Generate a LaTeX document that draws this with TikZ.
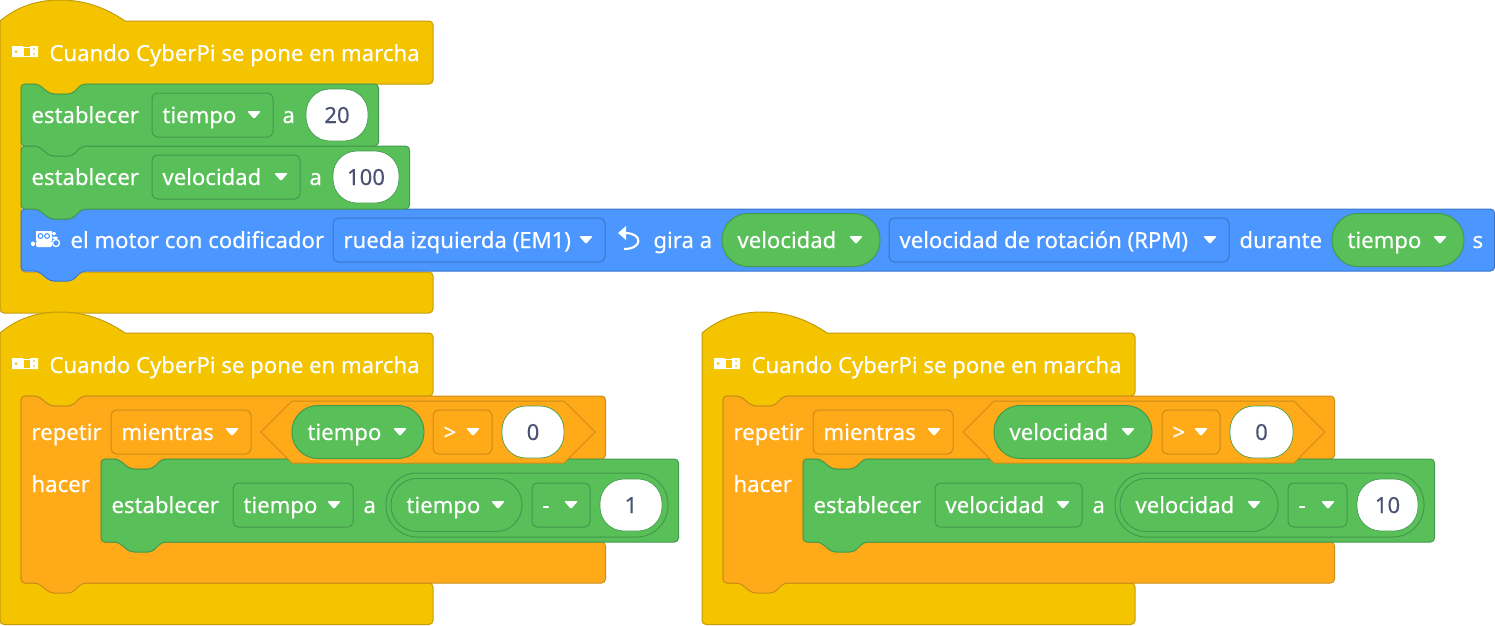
\documentclass[tikz,border=0pt]{standalone}
\usepackage{fontspec}
\setmainfont{Noto Sans}[FakeBold=0.3]
\definecolor{yfill}{HTML}{F5C400}
\definecolor{yedge}{HTML}{C49D0A}
\definecolor{gfill}{HTML}{59C059}
\definecolor{gedge}{HTML}{429A4C}
\definecolor{bfill}{HTML}{4C97FF}
\definecolor{bedge}{HTML}{3A76CC}
\definecolor{ofill}{HTML}{FFAB19}
\definecolor{oedge}{HTML}{CC8B18}
\definecolor{slate}{HTML}{4C5272}
\tikzset{
	txt/.style={anchor=base west,inner sep=0pt,xshift=-.6pt,text=white,font=\fontsize{16.6}{18}\selectfont},
	num/.style={anchor=base,inner sep=0pt,text=slate,font=\fontsize{16.6}{18}\selectfont},
	yblk/.style={fill=yfill,draw=yedge,line width=.75pt},
	gblk/.style={fill=gfill,draw=gedge,line width=.75pt},
	bblk/.style={fill=bfill,draw=bedge,line width=.75pt},
	oblk/.style={fill=ofill,draw=oedge,line width=.75pt}
}
% stacked block: style, x1, y1, x2, y2
\newcommand{\stackblk}[5]{
	\draw[#1,rounded corners=3] (#2,{#3+20})--(#2,#3)--({#2+17},#3)--({#2+29},{#3+10})--({#2+51},{#3+10})--({#2+61},#3)
	--(#4,#3)--(#4,#5)--({#2+61},#5)--({#2+51},{#5+10})--({#2+29},{#5+10})--({#2+17},#5)--(#2,#5)--cycle;
}
% hat block: x0, y0, bottom of its row, start of lower part, bottom
\newcommand{\hatblk}[5]{
	\draw[yblk] (#1,{#2+40})--(#1,{#2+21}) .. controls ({#1+18},{#2+6}) and ({#1+38},#2) .. ({#1+60},#2)
	.. controls ({#1+85},#2) and ({#1+106},{#2+8}) .. ({#1+125},{#2+21}) [rounded corners=3]
	--({#1+433},{#2+21})--({#1+433},#3)--({#1+82},#3)--({#1+72},{#3+10})--({#1+50},{#3+10})--({#1+38},#3)--({#1+21},#3)
	--({#1+21},#4)--({#1+433},#4)--({#1+433},#5)--(#1,#5)--cycle;
}
% loop block: x1, y1, x2, y2, y3, y4 (arm is 80 wide)
\newcommand{\loopblk}[6]{
	\draw[oblk,rounded corners=3] (#1,{#2+20})--(#1,#2)--({#1+17},#2)--({#1+29},{#2+10})--({#1+51},{#2+10})--({#1+61},#2)
	--(#3,#2)--(#3,#4)--({#1+141},#4)--({#1+131},{#4+10})--({#1+109},{#4+10})--({#1+97},#4)--({#1+80},#4)
	--({#1+80},#5)--(#3,#5)--(#3,#6)--({#1+61},#6)--({#1+51},{#6+10})--({#1+29},{#6+10})--({#1+17},#6)--(#1,#6)--cycle;
}
\newcommand{\caretmark}[2]{
	\fill[white,rounded corners=1] ({#1-26},{#2-4})--({#1-12},{#2-4})--({#1-19},{#2+4})--cycle;
}
\newcommand{\cyberico}[2]{
	\fill[white] (#1,#2) rectangle ({#1+11},{#2+11}) ({#1+18},#2) rectangle ({#1+26},{#2+11});
	\draw[white,line width=.75pt] ({#1+11},{#2+1}) rectangle ({#1+18},{#2+10});
	\fill[yfill] ({#1+4},{#2+5.5}) circle (1.5) ({#1+22},{#2+3}) circle (1) ({#1+22},{#2+8}) circle (1);
}
\begin{document}
\begin{tikzpicture}[x=.75pt,y=-.75pt]
	\useasboundingbox (0,0) rectangle (1495,625);
	% yellow hats
	\hatblk{0}{0}{84}{272}{313}
	\hatblk{0}{312}{396}{583}{624.5}
	\hatblk{702}{312}{396}{583}{624.5}
	\cyberico{12}{46}
	\cyberico{12}{358}
	\cyberico{714}{358}
	% first stack
	\stackblk{bblk}{21}{209}{1494.5}{271}
	\stackblk{gblk}{21}{146}{409.5}{209}
	\stackblk{gblk}{21}{84}{378.5}{146}
	% the two loops
	\loopblk{21}{396}{605.5}{459}{542}{583}
	\loopblk{723}{396}{1334.5}{459}{542}{583}
	\stackblk{gblk}{101}{459}{678.5}{542}
	\stackblk{gblk}{803}{459}{1434.5}{542}
	% conditions
	\foreach \xa/\xb in {261/595,963/1325}{
		\draw[oblk] (\xa,432)--({\xa+31},401)--({\xb-31},401)--(\xb,432)--({\xb-31},463)--({\xa+31},463)--cycle;
	}
	% outer pills of the sums
	\foreach \xa/\xb in {386/668,1115/1424}{
		\draw[gblk,rounded corners=23.5] (\xa,473) rectangle (\xb,537);
	}
	% menus
	\foreach \sty/\xa/\xb/\y/\t in {gblk/152/273/115/tiempo, gblk/152/300/177/velocidad,
		gblk/233/353/505/tiempo, gblk/532/590/505/-, gblk/935/1082/505/velocidad, gblk/1288/1347/505/-,
		bblk/333/605/240/rueda izquierda (EM1), bblk/889/1229/240/velocidad de rotación (RPM),
		oblk/111/251/432/mientras, oblk/433/492/432/>, oblk/813/953/432/mientras, oblk/1162/1220/432/>}{
		\draw[\sty,rounded corners=4] (\xa,{\y-22}) rectangle (\xb,{\y+22});
		\node[txt] (menu\xa\y) at ({\xa+11},{\y+8}) {\t};
		\caretmark{\xb}{\y}
	}
	% variable pills
	\foreach \xa/\xb/\y/\t in {722/880/240/velocidad, 1332/1464/240/tiempo, 292/424/432/tiempo,
		994/1152/432/velocidad, 391/522/505/tiempo, 1120/1278/505/velocidad}{
		\draw[gblk,rounded corners=19.5] (\xa,{\y-26.5}) rectangle (\xb,{\y+26.5});
		\node[txt] (var\xa) at ({\xa+16},{\y+8}) {\t};
		\caretmark{(\xb-5)}{\y}
	}
	% white number fields
	\foreach \xa/\xb/\y/\t in {306/368/115/20, 333/399/177/100, 502/564/432/0,
		1230/1293/432/0, 600/662/505/1, 1357/1418/505/10}{
		\draw[fill=white,draw=gedge,rounded corners=18,line width=.5pt] (\xa,{\y-26}) rectangle (\xb,{\y+26});
		\node[num] (val\xa) at ({(\xa+\xb)/2},{\y+8}) {\t};
	}
	% words
	\foreach \nm/\x/\y/\t in {whenA/50/53/Cuando CyberPi se pone en marcha, whenB/50/365/Cuando CyberPi se pone en marcha,
		whenC/752/365/Cuando CyberPi se pone en marcha, setA/32/115/establecer, setB/32/177/establecer,
		setC/112/505/establecer, setD/814/505/establecer, toA/283/115/a, toB/310/177/a, toC/364/505/a, toD/1093/505/a,
		motor/71/240/el motor con codificador, turn/654/240/gira a, during/1240/240/durante, unit/1473/240/s,
		repA/32/432/repetir, repB/734/432/repetir, doA/32/484/hacer, doB/734/484/hacer}{
		\node[txt] (\nm) at (\x,{\y+8}) {\t};
	}
	% motor icon
	\draw[white,line width=.9pt,fill=white] (37,232) rectangle (51,240);
	\draw[bfill,line width=.8pt] (40.5,236) circle (2.4) (47,236) circle (2.4);
	\fill[white,rounded corners=1] (36,241) rectangle (52,247) (31,241.5) rectangle (35,246) (52,232) rectangle (56,235) (52,236.5) rectangle (58,239);
	\draw[white,line width=1pt] (56,243) circle (3.5);
	% turning arrow
	\draw[white,line width=1.6pt] (624,249) .. controls (643,249) and (643,233) .. (625,233);
	\fill[white] (618,233)--(626,226)--(626,240)--cycle;
\end{tikzpicture}
\end{document}
